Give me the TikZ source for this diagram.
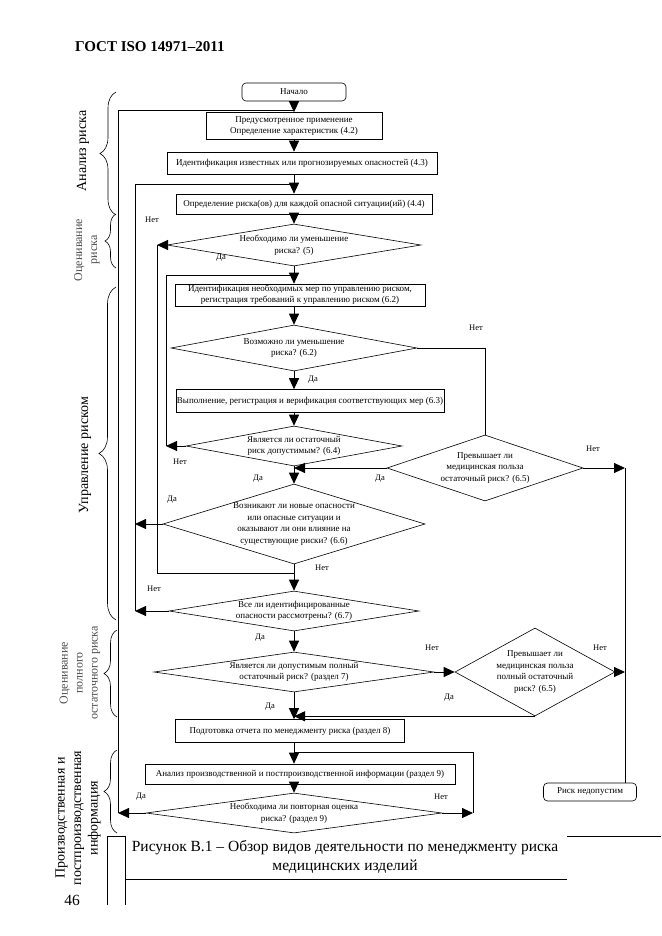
\documentclass[tikz,border=0pt]{standalone}
\usepackage{fontspec}
\setmainfont{Liberation Serif}
\usepackage{tikz}
\usetikzlibrary{
  arrows.meta,
  shapes,
  shapes.geometric,
  positioning,
  calc,
  decorations.pathreplacing
}
\tikzset{
  fcnode/.style={
    draw, line width=0.6pt, inner sep=1pt, align=center,
    font=\fontsize{9}{11}\selectfont
  },
  fcbox/.style={fcnode, rectangle},
  fcterm/.style={fcnode, rounded corners=4pt},
  fcdec/.style={draw, diamond, line width=0.6pt, inner sep=0pt},
  fctxt/.style={align=center, inner sep=0pt, font=\fontsize{9}{11.5}\selectfont},
  fcflow/.style={-{Triangle[length=11pt, width=10pt]}, line width=0.9pt},
  fcline/.style={line width=0.9pt},
  fctag/.style={font=\fontsize{8.5}{10}\selectfont, inner sep=0pt},
  fcbrace/.style={decorate, decoration={brace, amplitude=#1}, line width=0.6pt},
  fcside/.style={rotate=90, align=center, inner sep=0pt, font=\fontsize{14}{16.5}\selectfont},
  fcsidelight/.style={fcside, text=black!70, font=\fontsize{12}{15}\selectfont},
  fctitle/.style={font=\fontsize{15}{18}\selectfont\bfseries, inner sep=0pt},
  fccap/.style={align=center, inner sep=0pt, font=\fontsize{15.5}{19}\selectfont},
  fcrule/.style={line width=0.8pt}
}

\begin{document}
\begin{tikzpicture}[x=1pt, y=-1pt]
  \fill[white] (0,0) rectangle (661,936);
  \useasboundingbox (0,0) rectangle (661,936);
  \node[fctitle, anchor=west] (hd) at (75,47) {ГОСТ ISO 14971–2011};

  \node[fcterm, minimum width=104pt, minimum height=18pt] (s) at (294,92) {Начало};
  \node[fcbox, minimum width=176pt, minimum height=27pt] (a) at (294,126) {Предусмотренное применение\\Определение характеристик (4.2)};
  \node[fcbox, minimum width=270pt, minimum height=22pt] (b) at (302,163) {Идентификация известных или прогнозируемых опасностей (4.3)};
  \node[fcbox, minimum width=256pt, minimum height=20pt] (c) at (304,204) {Определение риска(ов) для каждой опасной ситуации(ий) (4.4)};
  \node[fcdec, minimum width=254pt, minimum height=42pt, label={[fctxt]center:{Необходимо ли уменьшение\\риска? (5)}}] (d) at (294,245) {};
  \node[fcbox, minimum width=250pt, minimum height=22pt] (e) at (300,295) {Идентификация необходимых мер по управлению риском,\\регистрация требований к управлению риском (6.2)};
  \node[fcdec, minimum width=246pt, minimum height=46pt, label={[fctxt]center:{Возможно ли уменьшение\\риска? (6.2)}}] (f) at (294,348) {};
  \node[fcbox, minimum width=267pt, minimum height=23pt] (g) at (310,401) {Выполнение, регистрация и верификация соответствующих мер (6.3)};
  \node[fcdec, minimum width=216pt, minimum height=40pt, label={[fctxt]center:{Является ли остаточный\\риск допустимым? (6.4)}}] (h) at (294,446) {};
  \node[fcdec, minimum width=196pt, minimum height=66pt, label={[fctxt]center:{Превышает ли\\медицинская польза\\остаточный риск? (6.5)}}] (i) at (485,468) {};
  \node[fcdec, minimum width=262pt, minimum height=80pt, label={[fctxt]center:{Возникают ли новые опасности\\или опасные ситуации и\\оказывают ли они влияние на\\существующие риски? (6.6)}}] (j) at (294,524) {};
  \node[fcdec, minimum width=250pt, minimum height=40pt, label={[fctxt]center:{Все ли идентифицированные\\опасности рассмотрены? (6.7)}}] (k) at (294,611) {};
  \node[fcdec, minimum width=280pt, minimum height=40pt, label={[fctxt]center:{Является ли допустимым полный\\остаточный риск? (раздел 7)}}] (l) at (294,672) {};
  \node[fcdec, minimum width=160pt, minimum height=88pt, label={[fctxt]center:{Превышает ли\\медицинская польза\\полный остаточный\\риск? (6.5)}}] (m) at (535,672) {};
  \node[fcbox, minimum width=229pt, minimum height=23pt] (n) at (290,731) {Подготовка отчета по менеджменту риска (раздел 8)};
  \node[fcbox, minimum width=310pt, minimum height=20pt] (o) at (300,774) {Анализ производственной и постпроизводственной информации (раздел 9)};
  \node[fcdec, minimum width=296pt, minimum height=40pt, label={[fctxt]center:{Необходима ли повторная оценка\\риска? (раздел 9)}}] (p) at (294,813) {};
  \node[fcterm, minimum width=93pt, minimum height=18pt] (r) at (590,792) {Риск недопустим};

  \coordinate (la) at (118,110);
  \coordinate (lb) at (135,184);
  \coordinate (lc) at (157,573);
  \coordinate (ld) at (166,275);
  \coordinate (rf) at (625,468);
  \coordinate (rg) at (473,752);

  \draw[fcflow] (s) -- (a);
  \draw[fcflow] (a.south) -- (a.south |- b.north);
  \draw[fcflow] (b.south -| s) -- (c.north -| s);
  \draw[fcflow] (c.south -| s) -- (d.north);
  \draw[fcflow] (d.south) -- (e.north -| s);
  \draw[fcflow] (e.south -| s) -- (f.north);
  \draw[fcflow] (f.south) -- (g.north -| s);
  \draw[fcflow] (g.south -| s) -- (h.north);
  \draw[fcflow] (h.south) -- (j.north);
  \draw[fcflow] (j.south) -- (k.north);
  \draw[fcflow] (k.south) -- (l.north);
  \draw[fcflow] (l.south) -- (n.north -| s);
  \draw[fcflow] (n.south -| s) -- (o.north -| s);
  \draw[fcflow] (o.south -| s) -- (p.north);

  \draw[fcflow] (d.west) -- (d.west -| lc);
  \draw[fcline] (d.west -| lc) -- (lc) -- (lc -| s);
  \draw[fcflow] (h.west) -- (h.west -| ld);
  \draw[fcline] (h.west -| ld) -- (ld) -- (ld -| s);
  \draw[fcflow] (j.west) -- (j.west -| lb);
  \draw[fcflow] (k.west) -- (k.west -| lb);
  \draw[fcline] (k.west -| lb) -- (lb) -- (lb -| s);
  \draw[fcflow] (p.west) -- (p.west -| la);
  \draw[fcline] (p.west -| la) -- (la) -- (la -| s);

  \draw[fcline] (f.east) -| (i.north);
  \draw[fcflow] (i.west) -- (i.west -| s);
  \draw[fcflow] (i.east) -- (rf);
  \draw[fcline] (rf) -- (rf |- r.north);
  \draw[fcflow] (l.east) -- (m.west);
  \draw[fcflow] (m.east) -- (m.east -| rf);
  \draw[fcflow] (m.south) -- (m.south -| s);
  \draw[fcflow] (p.east) -- (p.east -| rg);
  \draw[fcline] (p.east -| rg) -- (rg) -- (rg -| s);

  \node[fctag] (t1) at (152,220) {Нет};
  \node[fctag] (t2) at (221,258) {Да};
  \node[fctag] (t3) at (476,328) {Нет};
  \node[fctag] (t4) at (313,380) {Да};
  \node[fctag] (t5) at (180,462) {Нет};
  \node[fctag] (t6) at (258,479) {Да};
  \node[fctag] (t7) at (380,479) {Да};
  \node[fctag] (t8) at (593,449) {Нет};
  \node[fctag] (t9) at (172,500) {Да};
  \node[fctag] (t10) at (322,568) {Нет};
  \node[fctag] (t11) at (154,589) {Нет};
  \node[fctag] (t12) at (260,638) {Да};
  \node[fctag] (t13) at (432,648) {Нет};
  \node[fctag] (t14) at (600,648) {Нет};
  \node[fctag] (t15) at (449,698) {Да};
  \node[fctag] (t16) at (270,707) {Да};
  \node[fctag] (t17) at (141,797) {Да};
  \node[fctag] (t18) at (441,797) {Нет};

  \draw[fcbrace=16pt] (116,215) -- (116,92);
  \draw[fcbrace=11pt] (116,268) -- (116,214);
  \draw[fcbrace=17pt] (116,620) -- (116,287);
  \draw[fcbrace=13pt] (117,717) -- (117,630);
  \draw[fcbrace=13pt] (117,833) -- (117,750);
  \node[fcside] (sa) at (83,151) {Анализ риска};
  \node[fcsidelight] (sb) at (87,250) {Оценивание\\риска};
  \node[fcside] (sc) at (85,455) {Управление риском};
  \node[fcsidelight] (sd) at (80,673) {Оценивание\\полного\\остаточного риска};
  \node[fcside] (se) at (78,818) {Производственная и\\постпроизводственная\\информация};

  \node[fccap] (cap) at (345,857) {Рисунок В.1 – Обзор видов деятельности по менеджменту риска\\медицинских изделий};
  \draw[fcrule] (567,836) -- (661,836);
  \draw[fcrule] (125,879) -- (567,879);
  \draw[fcrule] (107,905) -- (107,836) -- (125,836) -- (125,905);
  \node[fccap] (pg) at (72,900) {46};
\end{tikzpicture}
\end{document}
